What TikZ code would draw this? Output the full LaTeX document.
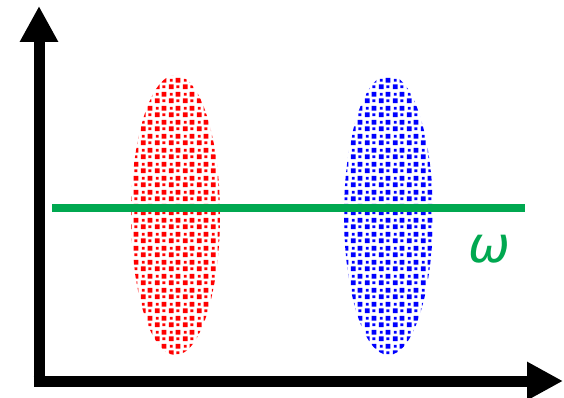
\documentclass[tikz,border=0pt]{standalone}
\usepackage{fontspec}
\newfontfamily\symfont{DejaVu Sans}
\usetikzlibrary{arrows.meta,patterns.meta}
\tikzdeclarepattern{
  name=sqdots,
  type=uncolored,
  bounding box={(0pt,0pt) and (14pt,14pt)},
  tile size={(14pt,14pt)},
  code={
    \fill (1pt,1pt) rectangle (6pt,6pt);
    \fill (8pt,8pt) rectangle (13pt,13pt);
    \fill (9pt,2pt) rectangle (12pt,5pt);
    \fill (2pt,9pt) rectangle (5pt,12pt);
  }
}
\definecolor{omgreen}{RGB}{0,168,80}
\tikzset{
  axis/.style={line width=11pt,-{Triangle[length=36pt,width=36pt]}},
  blob/.style={pattern=sqdots},
}
\begin{document}
\begin{tikzpicture}[x=1pt,y=-1pt]
\useasboundingbox (0,0) rectangle (564,398);
\coordinate (origin) at (39,381);
\coordinate (ytip) at (39,6);
\coordinate (xtip) at (563,381);
\draw[axis] ([yshift=-5.5pt]origin) -- (ytip);
\draw[axis] ([xshift=-5.5pt]origin) -- (xtip);
\path[blob,pattern color=red] (175.5,215) ellipse [x radius=44.5, y radius=140];
\path[blob,pattern color=blue] (388.5,215) ellipse [x radius=44.5, y radius=140];
\coordinate (gl) at (52,208);
\coordinate (gr) at (525,208);
\draw[omgreen,line width=8pt] (gl) -- (gr);
\node[omgreen,font=\symfont\itshape\fontsize{50}{52}\selectfont,inner sep=0pt,anchor=base] (omega) at (489,262) {ω};
\end{tikzpicture}
\end{document}
